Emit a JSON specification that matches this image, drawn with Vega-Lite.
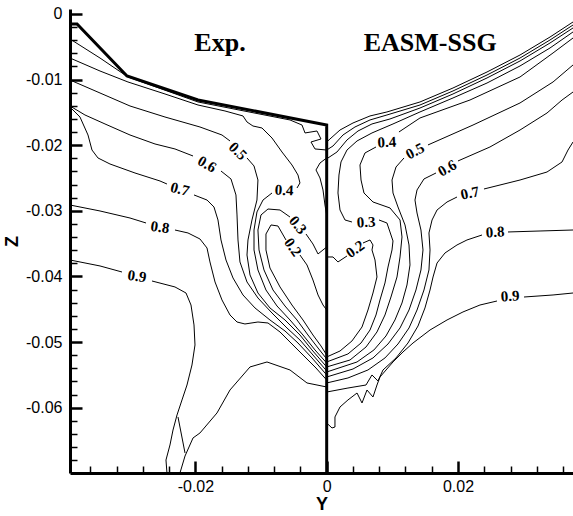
{
"$schema":"https://vega.github.io/schema/vega-lite/v6.json",
"width":503,"height":464,
"autosize":{"type":"none"},
"padding":{"left":70,"top":9,"right":0,"bottom":43},
"background":"white",
"config":{"view":{"stroke":null}},
"datasets":{
"wall":[{"c":"W","y":-0.0391,"z":-0.00152},{"c":"W","y":-0.03803,"z":-0.00152},{"c":"W","y":-0.03042,"z":-0.00945},{"c":"W","y":-0.0196,"z":-0.01311},{"c":"W","y":0,"z":-0.01692},{"c":"W","y":0,"z":-0.06995}],
"lines":[
{"c":"L03","y":-0.0391,"z":-0.00381},{"c":"L03","y":-0.03453,"z":-0.00671},{"c":"L03","y":-0.03027,"z":-0.0096},{"c":"L03","y":-0.0196,"z":-0.01341},{"c":"L03","y":-0.00559,"z":-0.01615},{"c":"L03","y":-0.00376,"z":-0.01692},{"c":"L03","y":-0.0033,"z":-0.01813},{"c":"L03","y":-0.00148,"z":-0.01783},{"c":"L03","y":-0.00087,"z":-0.01905},{"c":"L03","y":-0.00239,"z":-0.01951},{"c":"L03","y":-0.00178,"z":-0.02057},{"c":"L03","y":0,"z":-0.02073},
{"c":"L04a","y":-0.0391,"z":-0.00671},{"c":"L04a","y":-0.03453,"z":-0.00869},{"c":"L04a","y":-0.03027,"z":-0.01036},{"c":"L04a","y":-0.02463,"z":-0.01219},{"c":"L04a","y":-0.0196,"z":-0.01387},{"c":"L04a","y":-0.01549,"z":-0.01478},{"c":"L04a","y":-0.01275,"z":-0.01554},{"c":"L04a","y":-0.01214,"z":-0.01646},{"c":"L04a","y":-0.01123,"z":-0.01707},{"c":"L04a","y":-0.00986,"z":-0.01737},{"c":"L04a","y":-0.00833,"z":-0.0189},{"c":"L04a","y":-0.00681,"z":-0.02103},{"c":"L04a","y":-0.00529,"z":-0.02301},{"c":"L04a","y":-0.00437,"z":-0.02454},{"c":"L04a","y":-0.00407,"z":-0.02575},{"c":"L04a","y":-0.00452,"z":-0.02652},
{"c":"L04b","y":-0.00833,"z":-0.02728},{"c":"L04b","y":-0.0097,"z":-0.02835},{"c":"L04b","y":-0.01062,"z":-0.03017},{"c":"L04b","y":-0.01107,"z":-0.03292},{"c":"L04b","y":-0.01107,"z":-0.03596},{"c":"L04b","y":-0.01047,"z":-0.03901},{"c":"L04b","y":-0.00925,"z":-0.04206},{"c":"L04b","y":-0.00757,"z":-0.0445},{"c":"L04b","y":-0.00559,"z":-0.04663},{"c":"L04b","y":-0.00361,"z":-0.04892},{"c":"L04b","y":-0.00178,"z":-0.0512},{"c":"L04b","y":0,"z":-0.05319},
{"c":"L05a","y":-0.0391,"z":-0.01006},{"c":"L05a","y":-0.03453,"z":-0.01204},{"c":"L05a","y":-0.02996,"z":-0.01402},{"c":"L05a","y":-0.02463,"z":-0.0157},{"c":"L05a","y":-0.0193,"z":-0.01722},{"c":"L05a","y":-0.01595,"z":-0.01844},{"c":"L05a","y":-0.01473,"z":-0.01935},
{"c":"L05b","y":-0.01214,"z":-0.02194},{"c":"L05b","y":-0.01107,"z":-0.02316},{"c":"L05b","y":-0.01047,"z":-0.0253},{"c":"L05b","y":-0.01062,"z":-0.02835},{"c":"L05b","y":-0.01138,"z":-0.03139},{"c":"L05b","y":-0.01199,"z":-0.03444},{"c":"L05b","y":-0.01214,"z":-0.03673},{"c":"L05b","y":-0.01168,"z":-0.03977},{"c":"L05b","y":-0.01047,"z":-0.04252},{"c":"L05b","y":-0.00864,"z":-0.0448},{"c":"L05b","y":-0.00635,"z":-0.04663},{"c":"L05b","y":-0.00407,"z":-0.04892},{"c":"L05b","y":-0.00224,"z":-0.0512},{"c":"L05b","y":0,"z":-0.05379},
{"c":"L06a","y":-0.0391,"z":-0.01402},{"c":"L06a","y":-0.03682,"z":-0.01539},{"c":"L06a","y":-0.03377,"z":-0.01676},{"c":"L06a","y":-0.02996,"z":-0.01844},{"c":"L06a","y":-0.02615,"z":-0.01981},{"c":"L06a","y":-0.02311,"z":-0.02057},{"c":"L06a","y":-0.02036,"z":-0.02164},
{"c":"L06b","y":-0.0161,"z":-0.02393},{"c":"L06b","y":-0.01458,"z":-0.02514},{"c":"L06b","y":-0.01382,"z":-0.02758},{"c":"L06b","y":-0.01366,"z":-0.03063},{"c":"L06b","y":-0.01351,"z":-0.03444},{"c":"L06b","y":-0.01321,"z":-0.03779},{"c":"L06b","y":-0.01214,"z":-0.04084},{"c":"L06b","y":-0.01047,"z":-0.04328},{"c":"L06b","y":-0.00833,"z":-0.04557},{"c":"L06b","y":-0.00605,"z":-0.04785},{"c":"L06b","y":-0.00407,"z":-0.04968},{"c":"L06b","y":-0.00209,"z":-0.05197},{"c":"L06b","y":0,"z":-0.0544},
{"c":"L07a","y":-0.0391,"z":-0.01417},{"c":"L07a","y":-0.03758,"z":-0.0157},{"c":"L07a","y":-0.03636,"z":-0.01844},{"c":"L07a","y":-0.03575,"z":-0.02073},{"c":"L07a","y":-0.03484,"z":-0.02194},{"c":"L07a","y":-0.03301,"z":-0.02286},{"c":"L07a","y":-0.0292,"z":-0.02423},{"c":"L07a","y":-0.02539,"z":-0.02545},{"c":"L07a","y":-0.02433,"z":-0.02591},
{"c":"L07b","y":-0.02021,"z":-0.02758},{"c":"L07b","y":-0.01823,"z":-0.02835},{"c":"L07b","y":-0.01717,"z":-0.02941},{"c":"L07b","y":-0.01656,"z":-0.03139},{"c":"L07b","y":-0.0161,"z":-0.03444},{"c":"L07b","y":-0.01534,"z":-0.03749},{"c":"L07b","y":-0.01427,"z":-0.04023},{"c":"L07b","y":-0.01275,"z":-0.04282},{"c":"L07b","y":-0.01092,"z":-0.0448},{"c":"L07b","y":-0.00864,"z":-0.04663},{"c":"L07b","y":-0.00635,"z":-0.04831},{"c":"L07b","y":-0.00437,"z":-0.05014},{"c":"L07b","y":-0.00224,"z":-0.05242},{"c":"L07b","y":0,"z":-0.05501},
{"c":"L08a","y":-0.0391,"z":-0.02911},{"c":"L08a","y":-0.03453,"z":-0.03002},{"c":"L08a","y":-0.02996,"z":-0.03109},{"c":"L08a","y":-0.02752,"z":-0.03185},
{"c":"L08b","y":-0.02311,"z":-0.03292},{"c":"L08b","y":-0.02113,"z":-0.03337},{"c":"L08b","y":-0.0193,"z":-0.03429},{"c":"L08b","y":-0.01823,"z":-0.03566},{"c":"L08b","y":-0.01778,"z":-0.03779},{"c":"L08b","y":-0.01701,"z":-0.04084},{"c":"L08b","y":-0.01595,"z":-0.04358},{"c":"L08b","y":-0.01473,"z":-0.04587},{"c":"L08b","y":-0.01366,"z":-0.04694},{"c":"L08b","y":-0.01245,"z":-0.04724},{"c":"L08b","y":-0.01047,"z":-0.04694},{"c":"L08b","y":-0.00894,"z":-0.04709},{"c":"L08b","y":-0.00711,"z":-0.04846},{"c":"L08b","y":-0.00529,"z":-0.05029},{"c":"L08b","y":-0.00346,"z":-0.05212},{"c":"L08b","y":-0.00163,"z":-0.05395},{"c":"L08b","y":0,"z":-0.05578},
{"c":"L09a","y":-0.0391,"z":-0.03749},{"c":"L09a","y":-0.03453,"z":-0.0384},{"c":"L09a","y":-0.03118,"z":-0.03932},
{"c":"L09b","y":-0.02661,"z":-0.04069},{"c":"L09b","y":-0.02311,"z":-0.0416},{"c":"L09b","y":-0.02143,"z":-0.04252},{"c":"L09b","y":-0.02067,"z":-0.04435},{"c":"L09b","y":-0.02021,"z":-0.04739},{"c":"L09b","y":-0.02006,"z":-0.05044},{"c":"L09b","y":-0.02052,"z":-0.05349},{"c":"L09b","y":-0.02128,"z":-0.05654},{"c":"L09b","y":-0.02204,"z":-0.05882},{"c":"L09b","y":-0.0228,"z":-0.06111},{"c":"L09b","y":-0.02341,"z":-0.0634},{"c":"L09b","y":-0.02387,"z":-0.06568},{"c":"L09b","y":-0.02448,"z":-0.06797},{"c":"L09b","y":-0.02433,"z":-0.06995},
{"c":"L09c","y":-0.02235,"z":-0.06995},{"c":"L09c","y":-0.02158,"z":-0.06736},{"c":"L09c","y":-0.02036,"z":-0.06461},{"c":"L09c","y":-0.0193,"z":-0.06385},{"c":"L09c","y":-0.01671,"z":-0.0608},{"c":"L09c","y":-0.01473,"z":-0.0573},{"c":"L09c","y":-0.01168,"z":-0.05379},{"c":"L09c","y":-0.00909,"z":-0.05303},{"c":"L09c","y":-0.00559,"z":-0.05425},{"c":"L09c","y":-0.003,"z":-0.05623},{"c":"L09c","y":0,"z":-0.05684},
{"c":"L09s","y":-0.02265,"z":-0.06141},{"c":"L09s","y":-0.02158,"z":-0.0669},
{"c":"L02a","y":-0.0062,"z":-0.03444},{"c":"L02a","y":-0.00742,"z":-0.03231},{"c":"L02a","y":-0.00848,"z":-0.03215},{"c":"L02a","y":-0.00925,"z":-0.03353},{"c":"L02a","y":-0.00925,"z":-0.03596},{"c":"L02a","y":-0.00864,"z":-0.03871},{"c":"L02a","y":-0.00711,"z":-0.0416},{"c":"L02a","y":-0.00529,"z":-0.04435},{"c":"L02a","y":-0.00361,"z":-0.04663},{"c":"L02a","y":-0.00209,"z":-0.04892},{"c":"L02a","y":-0.00087,"z":-0.05059},{"c":"L02a","y":0,"z":-0.05197},
{"c":"L02b","y":-0.00407,"z":-0.03673},{"c":"L02b","y":-0.003,"z":-0.03825},{"c":"L02b","y":-0.00209,"z":-0.04054},{"c":"L02b","y":-0.00132,"z":-0.04282},{"c":"L02b","y":-0.00056,"z":-0.04435},{"c":"L02b","y":0,"z":-0.04511},
{"c":"L03c","y":-0.00315,"z":-0.03353},{"c":"L03c","y":-0.00209,"z":-0.03505},{"c":"L03c","y":-0.00132,"z":-0.03657},{"c":"L03c","y":0,"z":-0.03551},
{"c":"L03d","y":-0.00559,"z":-0.03094},{"c":"L03d","y":-0.00711,"z":-0.02987},{"c":"L03d","y":-0.00894,"z":-0.02972},{"c":"L03d","y":-0.01001,"z":-0.03063},{"c":"L03d","y":-0.01047,"z":-0.03292},{"c":"L03d","y":-0.01031,"z":-0.03596},{"c":"L03d","y":-0.00955,"z":-0.03901},{"c":"L03d","y":-0.00818,"z":-0.04206},{"c":"L03d","y":-0.00635,"z":-0.0445},{"c":"L03d","y":-0.00452,"z":-0.04663},{"c":"L03d","y":-0.00285,"z":-0.04892},{"c":"L03d","y":-0.00132,"z":-0.0509},{"c":"L03d","y":0,"z":-0.05257},
{"c":"LW2","y":0,"z":-0.02194},{"c":"LW2","y":-0.00102,"z":-0.02271},{"c":"LW2","y":-0.00163,"z":-0.02377},{"c":"LW2","y":-0.00102,"z":-0.02499},{"c":"LW2","y":-0.00056,"z":-0.02682},{"c":"LW2","y":-0.00026,"z":-0.02911},{"c":"LW2","y":0,"z":-0.03063},
{"c":"RB1","y":0.03752,"z":-0.00122},{"c":"RB1","y":0.03402,"z":-0.00351},{"c":"RB1","y":0.02945,"z":-0.00625},{"c":"RB1","y":0.02442,"z":-0.00884},{"c":"RB1","y":0.01924,"z":-0.01128},{"c":"RB1","y":0.01421,"z":-0.01341},{"c":"RB1","y":0.00918,"z":-0.01493},{"c":"RB1","y":0.0066,"z":-0.01554},{"c":"RB1","y":0.00401,"z":-0.01661},{"c":"RB1","y":0.00203,"z":-0.01768},{"c":"RB1","y":0.0005,"z":-0.01905},{"c":"RB1","y":0,"z":-0.01951},
{"c":"RB2","y":0.03752,"z":-0.00168},{"c":"RB2","y":0.03402,"z":-0.00396},{"c":"RB2","y":0.02945,"z":-0.00671},{"c":"RB2","y":0.02442,"z":-0.0093},{"c":"RB2","y":0.01924,"z":-0.01173},{"c":"RB2","y":0.01421,"z":-0.01387},{"c":"RB2","y":0.00918,"z":-0.01539},{"c":"RB2","y":0.0066,"z":-0.01615},{"c":"RB2","y":0.00431,"z":-0.01722},{"c":"RB2","y":0.00248,"z":-0.01844},{"c":"RB2","y":0.00096,"z":-0.02012},{"c":"RB2","y":0,"z":-0.02073},
{"c":"RB3","y":0.03752,"z":-0.00213},{"c":"RB3","y":0.03402,"z":-0.00442},{"c":"RB3","y":0.02945,"z":-0.00716},{"c":"RB3","y":0.02442,"z":-0.00975},{"c":"RB3","y":0.01924,"z":-0.01219},{"c":"RB3","y":0.01421,"z":-0.01433},{"c":"RB3","y":0.00964,"z":-0.016},{"c":"RB3","y":0.0069,"z":-0.01676},{"c":"RB3","y":0.00477,"z":-0.01783},{"c":"RB3","y":0.00309,"z":-0.0192},{"c":"RB3","y":0.00157,"z":-0.02103},{"c":"RB3","y":0.0002,"z":-0.02194},
{"c":"R03a","y":0.03752,"z":-0.00274},{"c":"R03a","y":0.03402,"z":-0.00518},{"c":"R03a","y":0.02945,"z":-0.00792},{"c":"R03a","y":0.02442,"z":-0.01052},{"c":"R03a","y":0.01924,"z":-0.0128},{"c":"R03a","y":0.01421,"z":-0.01493},{"c":"R03a","y":0.0101,"z":-0.01676},{"c":"R03a","y":0.0069,"z":-0.01813},{"c":"R03a","y":0.00462,"z":-0.01935},{"c":"R03a","y":0.00309,"z":-0.02073},{"c":"R03a","y":0.00218,"z":-0.02255},{"c":"R03a","y":0.00187,"z":-0.02454},{"c":"R03a","y":0.00172,"z":-0.02728},{"c":"R03a","y":0.00203,"z":-0.02987},{"c":"R03a","y":0.00279,"z":-0.03139},{"c":"R03a","y":0.00385,"z":-0.0317},
{"c":"R03b","y":0.00797,"z":-0.03139},{"c":"R03b","y":0.00918,"z":-0.03185},{"c":"R03b","y":0.00964,"z":-0.03322},{"c":"R03b","y":0.0101,"z":-0.03459},{"c":"R03b","y":0.00995,"z":-0.03596},{"c":"R03b","y":0.00934,"z":-0.03856},{"c":"R03b","y":0.00888,"z":-0.04099},{"c":"R03b","y":0.00812,"z":-0.04358},{"c":"R03b","y":0.00751,"z":-0.04587},{"c":"R03b","y":0.0066,"z":-0.04816},{"c":"R03b","y":0.00523,"z":-0.05014},{"c":"R03b","y":0.00324,"z":-0.05181},{"c":"R03b","y":0,"z":-0.05303},
{"c":"R04a","y":0.03752,"z":-0.00366},{"c":"R04a","y":0.03448,"z":-0.00594},{"c":"R04a","y":0.02945,"z":-0.0096},{"c":"R04a","y":0.02183,"z":-0.01311},{"c":"R04a","y":0.01421,"z":-0.01585},{"c":"R04a","y":0.01101,"z":-0.01798},
{"c":"R04b","y":0.00751,"z":-0.02027},{"c":"R04b","y":0.00583,"z":-0.02118},{"c":"R04b","y":0.00507,"z":-0.02301},{"c":"R04b","y":0.00523,"z":-0.0253},{"c":"R04b","y":0.00568,"z":-0.02728},{"c":"R04b","y":0.00705,"z":-0.02865},{"c":"R04b","y":0.00964,"z":-0.02956},{"c":"R04b","y":0.01117,"z":-0.03139},{"c":"R04b","y":0.01147,"z":-0.03398},{"c":"R04b","y":0.01117,"z":-0.03703},{"c":"R04b","y":0.01071,"z":-0.04008},{"c":"R04b","y":0.00979,"z":-0.04313},{"c":"R04b","y":0.00888,"z":-0.04587},{"c":"R04b","y":0.00766,"z":-0.04846},{"c":"R04b","y":0.00599,"z":-0.05075},{"c":"R04b","y":0.00355,"z":-0.05273},{"c":"R04b","y":0,"z":-0.05379},
{"c":"R05a","y":0.03752,"z":-0.00777},{"c":"R05a","y":0.03448,"z":-0.01036},{"c":"R05a","y":0.02945,"z":-0.01356},{"c":"R05a","y":0.02229,"z":-0.01692},{"c":"R05a","y":0.01543,"z":-0.01996},
{"c":"R05b","y":0.01178,"z":-0.02194},{"c":"R05b","y":0.01056,"z":-0.02332},{"c":"R05b","y":0.00995,"z":-0.0253},{"c":"R05b","y":0.0101,"z":-0.02728},{"c":"R05b","y":0.01086,"z":-0.02941},{"c":"R05b","y":0.01193,"z":-0.03215},{"c":"R05b","y":0.01254,"z":-0.0352},{"c":"R05b","y":0.01269,"z":-0.03825},{"c":"R05b","y":0.01223,"z":-0.0413},{"c":"R05b","y":0.01147,"z":-0.04404},{"c":"R05b","y":0.0104,"z":-0.04663},{"c":"R05b","y":0.00903,"z":-0.04907},{"c":"R05b","y":0.0072,"z":-0.0512},{"c":"R05b","y":0.00462,"z":-0.05303},{"c":"R05b","y":0,"z":-0.05456},
{"c":"R06a","y":0.03752,"z":-0.01189},{"c":"R06a","y":0.03585,"z":-0.01311},{"c":"R06a","y":0.03356,"z":-0.01509},{"c":"R06a","y":0.02945,"z":-0.01768},{"c":"R06a","y":0.02487,"z":-0.02027},{"c":"R06a","y":0.02,"z":-0.0224},
{"c":"R06b","y":0.01665,"z":-0.02423},{"c":"R06b","y":0.01482,"z":-0.02514},{"c":"R06b","y":0.01376,"z":-0.02682},{"c":"R06b","y":0.01345,"z":-0.02835},{"c":"R06b","y":0.01376,"z":-0.03033},{"c":"R06b","y":0.01436,"z":-0.03292},{"c":"R06b","y":0.01467,"z":-0.03596},{"c":"R06b","y":0.01436,"z":-0.03901},{"c":"R06b","y":0.0136,"z":-0.04206},{"c":"R06b","y":0.01254,"z":-0.04511},{"c":"R06b","y":0.01117,"z":-0.04785},{"c":"R06b","y":0.00934,"z":-0.05029},{"c":"R06b","y":0.00705,"z":-0.05242},{"c":"R06b","y":0.00401,"z":-0.0541},{"c":"R06b","y":0,"z":-0.05532},
{"c":"R07a","y":0.03752,"z":-0.01951},{"c":"R07a","y":0.03676,"z":-0.02073},{"c":"R07a","y":0.03585,"z":-0.02255},{"c":"R07a","y":0.03356,"z":-0.02408},{"c":"R07a","y":0.02945,"z":-0.0253},{"c":"R07a","y":0.02396,"z":-0.02667},
{"c":"R07b","y":0.01985,"z":-0.02789},{"c":"R07b","y":0.01833,"z":-0.02865},{"c":"R07b","y":0.01681,"z":-0.02987},{"c":"R07b","y":0.01605,"z":-0.03139},{"c":"R07b","y":0.01558,"z":-0.03337},{"c":"R07b","y":0.01574,"z":-0.03596},{"c":"R07b","y":0.01558,"z":-0.03901},{"c":"R07b","y":0.01482,"z":-0.04206},{"c":"R07b","y":0.01376,"z":-0.04511},{"c":"R07b","y":0.01254,"z":-0.04785},{"c":"R07b","y":0.01086,"z":-0.05029},{"c":"R07b","y":0.00888,"z":-0.05242},{"c":"R07b","y":0.00629,"z":-0.05425},{"c":"R07b","y":0.00324,"z":-0.05547},{"c":"R07b","y":0,"z":-0.05623},
{"c":"R08a","y":0.03752,"z":-0.03292},{"c":"R08a","y":0.0325,"z":-0.03307},{"c":"R08a","y":0.02762,"z":-0.03322},
{"c":"R08b","y":0.02366,"z":-0.03368},{"c":"R08b","y":0.02137,"z":-0.03444},{"c":"R08b","y":0.01985,"z":-0.0352},{"c":"R08b","y":0.01802,"z":-0.03642},{"c":"R08b","y":0.01681,"z":-0.03795},{"c":"R08b","y":0.0162,"z":-0.04008},{"c":"R08b","y":0.01574,"z":-0.04206},{"c":"R08b","y":0.01497,"z":-0.0448},{"c":"R08b","y":0.01391,"z":-0.04755},{"c":"R08b","y":0.01238,"z":-0.05014},{"c":"R08b","y":0.01056,"z":-0.05242},{"c":"R08b","y":0.00858,"z":-0.05425},{"c":"R08b","y":0.00781,"z":-0.05593},{"c":"R08b","y":0.0069,"z":-0.05501},{"c":"R08b","y":0.00599,"z":-0.05654},{"c":"R08b","y":0.00324,"z":-0.057},{"c":"R08b","y":0,"z":-0.05761},
{"c":"R09a","y":0.03752,"z":-0.04252},{"c":"R09a","y":0.03448,"z":-0.04282},{"c":"R09a","y":0.03006,"z":-0.04313},
{"c":"R09b","y":0.02594,"z":-0.04374},{"c":"R09b","y":0.02335,"z":-0.04435},{"c":"R09b","y":0.02076,"z":-0.04541},{"c":"R09b","y":0.01833,"z":-0.04663},{"c":"R09b","y":0.01574,"z":-0.04816},{"c":"R09b","y":0.01315,"z":-0.05014},{"c":"R09b","y":0.01162,"z":-0.05151},{"c":"R09b","y":0.0101,"z":-0.05303},{"c":"R09b","y":0.00812,"z":-0.05532},{"c":"R09b","y":0.00766,"z":-0.05654},{"c":"R09b","y":0.00705,"z":-0.05837},{"c":"R09b","y":0.00614,"z":-0.0573},{"c":"R09b","y":0.00538,"z":-0.05928},{"c":"R09b","y":0.00462,"z":-0.05776},{"c":"R09b","y":0.00324,"z":-0.05882},{"c":"R09b","y":0.00203,"z":-0.05989},{"c":"R09b","y":0.00126,"z":-0.06141},{"c":"R09b","y":0.00126,"z":-0.06294},{"c":"R09b","y":0.00081,"z":-0.06309},{"c":"R09b","y":0,"z":-0.06233},
{"c":"R02a","y":0,"z":-0.03703},{"c":"R02a","y":0.00096,"z":-0.03703},{"c":"R02a","y":0.00172,"z":-0.03779},{"c":"R02a","y":0.00309,"z":-0.03688},
{"c":"R02b","y":0.00553,"z":-0.0349},{"c":"R02b","y":0.0066,"z":-0.03444},{"c":"R02b","y":0.00705,"z":-0.0352},{"c":"R02b","y":0.0069,"z":-0.03596},{"c":"R02b","y":0.00736,"z":-0.03749},{"c":"R02b","y":0.00766,"z":-0.04008},{"c":"R02b","y":0.00705,"z":-0.04252},{"c":"R02b","y":0.00629,"z":-0.04511},{"c":"R02b","y":0.00538,"z":-0.0477},{"c":"R02b","y":0.00385,"z":-0.04983},{"c":"R02b","y":0.00203,"z":-0.05136},{"c":"R02b","y":0,"z":-0.05227}
],
"labels":[
{"k":"L5","t":"0.5","y":-0.01351,"z":-0.02088},
{"k":"L6","t":"0.6","y":-0.01823,"z":-0.02286},
{"k":"L7","t":"0.7","y":-0.02235,"z":-0.02667},
{"k":"L8","t":"0.8","y":-0.02539,"z":-0.03246},
{"k":"L9","t":"0.9","y":-0.02889,"z":-0.03993},
{"k":"L4","t":"0.4","y":-0.0065,"z":-0.02682},
{"k":"L3","t":"0.3","y":-0.00437,"z":-0.03215},
{"k":"L2","t":"0.2","y":-0.00513,"z":-0.03551},
{"k":"R4","t":"0.4","y":0.00918,"z":-0.01951},
{"k":"R5","t":"0.5","y":0.01345,"z":-0.02088},
{"k":"R6","t":"0.6","y":0.01833,"z":-0.02347},
{"k":"R7","t":"0.7","y":0.02183,"z":-0.02728},
{"k":"R8","t":"0.8","y":0.02564,"z":-0.03322},
{"k":"R9","t":"0.9","y":0.02793,"z":-0.04297},
{"k":"R3","t":"0.3","y":0.00599,"z":-0.0317},
{"k":"R2","t":"0.2","y":0.00431,"z":-0.03581}
],
"heads":[{"t":"Exp.","y":-0.01625,"z":-0.00442},{"t":"EASM-SSG","y":0.01576,"z":-0.00442}]
},
"encoding":{
"x":{"field":"y","type":"quantitative","scale":{"domain":[-0.0391,0.03752],"nice":false,"zero":false},
 "axis":{"title":"Y","values":[-0.036,-0.032,-0.028,-0.024,-0.02,-0.016,-0.012,-0.008,-0.004,0,0.004,0.008,0.012,0.016,0.02,0.024,0.028,0.032,0.036],
  "labelExpr":"abs(datum.value*50-round(datum.value*50))<0.001 ? (abs(datum.value)<1e-9 ? '0' : (datum.value<0?'-':'')+format(abs(datum.value),'.2f')) : ''",
  "tickSize":{"condition":{"test":"abs(datum.value*50-round(datum.value*50))<0.001","value":-12},"value":-7},
  "tickWidth":{"condition":{"test":"abs(datum.value*50-round(datum.value*50))<0.001","value":2.5},"value":1.5},
  "tickColor":"black","domainColor":"black","domainWidth":3,"grid":false,"labelFlush":false,"labelOverlap":false,
  "labelFont":"Liberation Sans","labelFontSize":16,"labelColor":"black","labelPadding":17,
  "titleFont":"Liberation Sans","titleFontWeight":"bold","titleFontSize":18,"titleColor":"black","titlePadding":-4}},
"y":{"field":"z","type":"quantitative","scale":{"domain":[-0.06995,0.00076],"nice":false,"zero":false},
 "axis":{"title":"Z","values":[0,-0.002,-0.004,-0.006,-0.008,-0.01,-0.012,-0.014,-0.016,-0.018,-0.02,-0.022,-0.024,-0.026,-0.028,-0.03,-0.032,-0.034,-0.036,-0.038,-0.04,-0.042,-0.044,-0.046,-0.048,-0.05,-0.052,-0.054,-0.056,-0.058,-0.06,-0.062,-0.064,-0.066,-0.068],
  "labelExpr":"abs(datum.value*100-round(datum.value*100))<0.001 ? (abs(datum.value)<1e-9 ? '0' : (datum.value<0?'-':'')+format(abs(datum.value),'.2f')) : ''",
  "tickSize":{"condition":{"test":"abs(datum.value*100-round(datum.value*100))<0.001","value":-12},"value":-7},
  "tickWidth":{"condition":{"test":"abs(datum.value*100-round(datum.value*100))<0.001","value":2.5},"value":1.5},
  "tickColor":"black","domainColor":"black","domainWidth":3,"grid":false,"labelFlush":false,"labelOverlap":false,
  "labelFont":"Liberation Sans","labelFontSize":16,"labelColor":"black","labelPadding":20,
  "titleFont":"Liberation Sans","titleFontWeight":"bold","titleFontSize":18,"titleColor":"black","titlePadding":4}}
},
"layer":[
{"data":{"name":"lines"},"mark":{"type":"line","color":"black","strokeWidth":1,"clip":true},"encoding":{"detail":{"field":"c"},"order":{"value":null}}},
{"data":{"name":"wall"},"mark":{"type":"line","color":"black","strokeWidth":3,"clip":true},"encoding":{"detail":{"field":"c"},"order":{"value":null}}},
{"data":{"name":"labels"},"transform":[{"filter":"datum.k=='L5'"}],"mark":{"type":"text","font":"Liberation Serif","fontWeight":"bold","fontSize":15,"angle":45},"encoding":{"text":{"field":"t"}}},
{"data":{"name":"labels"},"transform":[{"filter":"datum.k=='L6'"}],"mark":{"type":"text","font":"Liberation Serif","fontWeight":"bold","fontSize":15,"angle":30},"encoding":{"text":{"field":"t"}}},
{"data":{"name":"labels"},"transform":[{"filter":"datum.k=='L7'"}],"mark":{"type":"text","font":"Liberation Serif","fontWeight":"bold","fontSize":15,"angle":15},"encoding":{"text":{"field":"t"}}},
{"data":{"name":"labels"},"transform":[{"filter":"datum.k=='L8'||datum.k=='L9'"}],"mark":{"type":"text","font":"Liberation Serif","fontWeight":"bold","fontSize":15,"angle":8},"encoding":{"text":{"field":"t"}}},
{"data":{"name":"labels"},"transform":[{"filter":"datum.k=='L4'"}],"mark":{"type":"text","font":"Liberation Serif","fontWeight":"bold","fontSize":15,"angle":3},"encoding":{"text":{"field":"t"}}},
{"data":{"name":"labels"},"transform":[{"filter":"datum.k=='L3'"}],"mark":{"type":"text","font":"Liberation Serif","fontWeight":"bold","fontSize":15,"angle":50},"encoding":{"text":{"field":"t"}}},
{"data":{"name":"labels"},"transform":[{"filter":"datum.k=='L2'"}],"mark":{"type":"text","font":"Liberation Serif","fontWeight":"bold","fontSize":15,"angle":55},"encoding":{"text":{"field":"t"}}},
{"data":{"name":"labels"},"transform":[{"filter":"datum.k=='R4'||datum.k=='R8'||datum.k=='R9'||datum.k=='R3'"}],"mark":{"type":"text","font":"Liberation Serif","fontWeight":"bold","fontSize":15,"angle":-3},"encoding":{"text":{"field":"t"}}},
{"data":{"name":"labels"},"transform":[{"filter":"datum.k=='R5'"}],"mark":{"type":"text","font":"Liberation Serif","fontWeight":"bold","fontSize":15,"angle":-28},"encoding":{"text":{"field":"t"}}},
{"data":{"name":"labels"},"transform":[{"filter":"datum.k=='R6'"}],"mark":{"type":"text","font":"Liberation Serif","fontWeight":"bold","fontSize":15,"angle":-30},"encoding":{"text":{"field":"t"}}},
{"data":{"name":"labels"},"transform":[{"filter":"datum.k=='R7'"}],"mark":{"type":"text","font":"Liberation Serif","fontWeight":"bold","fontSize":15,"angle":-12},"encoding":{"text":{"field":"t"}}},
{"data":{"name":"labels"},"transform":[{"filter":"datum.k=='R2'"}],"mark":{"type":"text","font":"Liberation Serif","fontWeight":"bold","fontSize":15,"angle":-35},"encoding":{"text":{"field":"t"}}},
{"data":{"name":"heads"},"mark":{"type":"text","font":"Liberation Serif","fontWeight":"bold","fontSize":26},"encoding":{"text":{"field":"t"}}}
]
}
